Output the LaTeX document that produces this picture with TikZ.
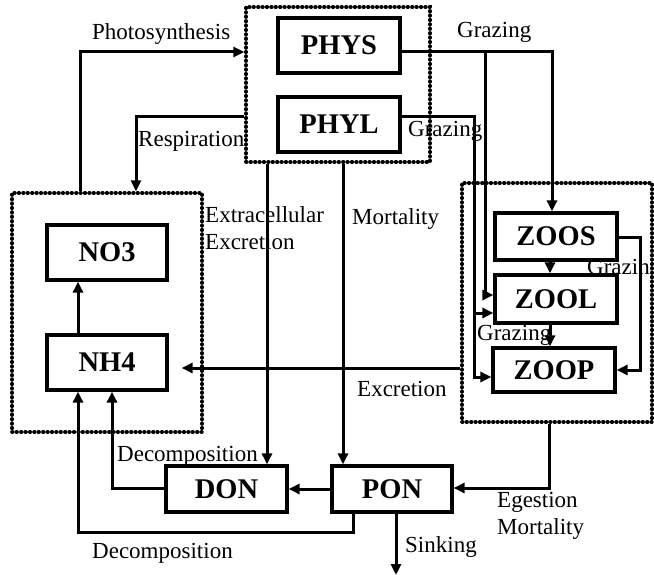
\documentclass[tikz,border=0pt]{standalone}
\usepackage{fontspec}
\setmainfont{Liberation Serif}
\usetikzlibrary{arrows.meta}
\begin{document}
\begin{tikzpicture}[x=1pt,y=-1pt,
  flow/.style={line width=3pt, -{Triangle[length=11pt,width=10pt]}},
  pool/.style={draw, line width=3.2pt, inner sep=0pt, font=\fontsize{28.5}{30}\selectfont\bfseries},
  group/.style={draw, line width=3.4pt, dash pattern=on 0.8pt off 3.6pt, line cap=round, inner sep=0pt},
  lbl/.style={inner sep=0pt, font=\fontsize{23}{27}\selectfont},
]
\useasboundingbox (0,0) rectangle (654,575);

% compartments
\node[group, minimum width=184pt, minimum height=155pt] (physgrp) at (338,84.5) {};
\node[group, minimum width=190pt, minimum height=239pt] (nutgrp) at (107,312.5) {};
\node[group, minimum width=190pt, minimum height=239pt] (zoogrp) at (557,302.5) {};

% state variables
\node[pool, minimum width=122pt, minimum height=55pt] (phys) at (339,45.5) {PHYS};
\node[pool, minimum width=122pt, minimum height=55pt] (phyl) at (339,124.5) {PHYL};
\node[pool, minimum width=120pt, minimum height=55pt] (no3) at (107,252.5) {NO3};
\node[pool, minimum width=120pt, minimum height=55pt] (nh4) at (107,362.5) {NH4};
\node[pool, minimum width=122pt, minimum height=47pt] (zoos) at (556,236.5) {ZOOS};
\node[pool, minimum width=122pt, minimum height=48pt] (zool) at (556,299) {ZOOL};
\node[pool, minimum width=122pt, minimum height=44pt] (zoop) at (554,370) {ZOOP};
\node[pool, minimum width=121pt, minimum height=46pt] (don) at (226.5,489) {DON};
\node[pool, minimum width=120pt, minimum height=46pt] (pon) at (392,489) {PON};

% routing points
\coordinate (ps) at (80,52);
\coordinate (rs) at (136,117);
\coordinate (nx) at (78,0);
\coordinate (ee) at (267,0);
\coordinate (mo) at (343,0);
\coordinate (ex) at (0,368);
\coordinate (g1) at (552,52);
\coordinate (g1b) at (485,52);
\coordinate (g1c) at (485,295);
\coordinate (g2) at (474,117);
\coordinate (g2m) at (474,313);
\coordinate (g2d) at (474,377);
\coordinate (zx) at (550,0);
\coordinate (zs1) at (640,238);
\coordinate (zs2) at (640,370);
\coordinate (eg) at (549,488);
\coordinate (d1) at (112,488);
\coordinate (d2a) at (353,532);
\coordinate (d2b) at (78,532);
\coordinate (sk) at (396,575);

% fluxes
\draw[flow] (nutgrp.north -| ps) -- (ps) -- (physgrp.west |- ps);
\draw[flow] (physgrp.west |- rs) -- (rs) -- (nutgrp.north -| rs);
\draw[flow] (nh4.north -| nx) -- (no3.south -| nx);
\draw[flow] (physgrp.south -| ee) -- (don.north -| ee);
\draw[flow] (physgrp.south -| mo) -- (pon.north -| mo);
\draw[flow, shorten >=13pt] (zoogrp.west |- ex) -- (nh4.east |- ex);
\draw[flow] (phys.east |- g1) -- (g1) -- (zoos.north -| g1);
\draw[flow] (g1b) -- (g1c) -- (zool.west |- g1c);
\draw[flow] (phyl.east |- g2) -- (g2) -- (g2d) -- (zoop.west |- g2d);
\draw[flow] (g2m) -- (zool.west |- g2m);
\draw[flow] (zoos.south -| zx) -- (zool.north -| zx);
\draw[flow] (zool.south -| zx) -- (zoop.north -| zx);
\draw[flow] (zoos.east |- zs1) -- (zs1) -- (zs2) -- (zoop.east |- zs2);
\draw[flow] (zoogrp.south -| eg) -- (eg) -- (pon.east |- eg);
\draw[flow] (pon.west) -- (don.east);
\draw[flow] (don.west |- d1) -- (d1) -- (nh4.south -| d1);
\draw[flow] (pon.south -| d2a) -- (d2a) -- (d2b) -- (nh4.south -| d2b);
\draw[flow] (pon.south -| sk) -- (sk);

% flux labels
\node[lbl, anchor=base west] (lphoto) at (92,40) {Photosynthesis};
\node[lbl, anchor=base west] (lresp) at (138,147) {Respiration};
\node[lbl, anchor=base west] (lgraz1) at (457,38) {Grazing};
\node[lbl, anchor=base west] (lgraz2) at (408,137) {Grazing};
\node[lbl, anchor=north west, align=left] (lextra) at (205,206) {Extracellular\\Excretion};
\node[lbl, anchor=base west] (lmort) at (352,225) {Mortality};
\node[lbl, anchor=base west] (lexcr) at (357,396) {Excretion};
\node[lbl, anchor=base west] (lgraz3) at (477,340) {Grazing};
\begin{scope}
  \clip (0,0) rectangle (651,575);
  \node[lbl, anchor=base west] (lgraz4) at (587,275) {Grazing};
\end{scope}
\node[lbl, anchor=north west, align=left] (legest) at (497,492) {Egestion\\Mortality};
\node[lbl, anchor=base west] (ldec1) at (117,461) {Decomposition};
\node[lbl, anchor=base west] (ldec2) at (92,558) {Decomposition};
\node[lbl, anchor=base west] (lsink) at (405,552) {Sinking};
\end{tikzpicture}
\end{document}
